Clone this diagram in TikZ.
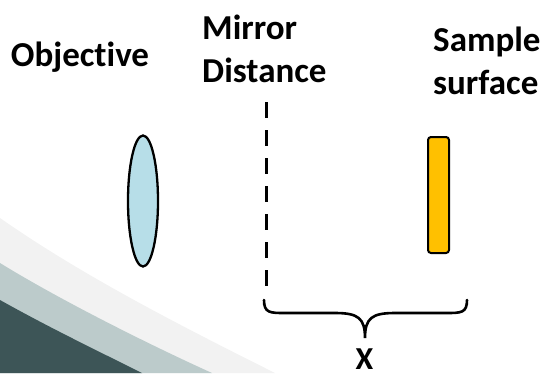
\documentclass[tikz,border=0pt]{standalone}
\usepackage{fontspec}
\setmainfont{Carlito}[Ligatures={NoCommon,NoRare,NoDiscretionary}]
\usetikzlibrary{shapes.geometric}
\definecolor{bandlight}{HTML}{F2F2F2}
\definecolor{bandmid}{HTML}{BCCBCB}
\definecolor{banddark}{HTML}{3D5557}
\definecolor{lensblue}{HTML}{B7DEE8}
\definecolor{sampleorange}{HTML}{FFC000}
\tikzset{
  label text/.style={font=\bfseries\fontsize{35}{43}\selectfont, inner sep=0pt, align=left},
  lens/.style={ellipse, draw=black, line width=2.3pt, fill=lensblue, minimum width=30pt, minimum height=131pt, inner sep=0pt},
  samplebox/.style={rectangle, rounded corners=3pt, draw=black, line width=2pt, fill=sampleorange, minimum width=21pt, minimum height=116pt, inner sep=0pt},
  mirrorline/.style={line width=3.6pt, dash pattern=on 16pt off 12pt},
  bracepath/.style={line width=2.6pt, line cap=round}
}
\begin{document}
\begin{tikzpicture}[x=1pt,y=-1pt]
\useasboundingbox (0,0) rectangle (544,373);
% background bands
\fill[bandlight] (0,218) .. controls (80,274) and (175,323) .. (275,373) -- (0,373) -- cycle;
\fill[bandmid] (0,263) .. controls (60,300) and (150,345) .. (212,373) -- (0,373) -- cycle;
\fill[banddark] (0,300) .. controls (50,328) and (100,352) .. (142,373) -- (0,373) -- cycle;
% labels
\node[label text, anchor=center] (obj) at (80,57) {Objective};
\node[label text, anchor=west] (mir) at (202,49) {Mirror\\Distance};
\node[label text, anchor=west] (smp) at (433,61) {Sample\\surface};
% elements
\node[lens] (lensnode) at (143,201) {};
\node[samplebox] (sample) at (438.5,195) {};
\coordinate (mtop) at (266.5,102);
\coordinate (mbot) at (266.5,288);
\draw[mirrorline] (mtop) -- (mbot);
% brace
\coordinate (bl) at (264,300);
\coordinate (br) at (467,300);
\coordinate (btip) at (365,338);
\draw[bracepath] (bl) .. controls (264,313) and (270,313) .. (285,313) -- (335,313)
  .. controls (358,313) and (365,318) .. (btip)
  .. controls (365,318) and (372,313) .. (395,313) -- (446,313)
  .. controls (461,313) and (467,313) .. (br);
\node[font=\bfseries\fontsize{32}{36}\selectfont, inner sep=0pt, anchor=base] (xlab) at (364.5,369) {X};
\end{tikzpicture}
\end{document}
